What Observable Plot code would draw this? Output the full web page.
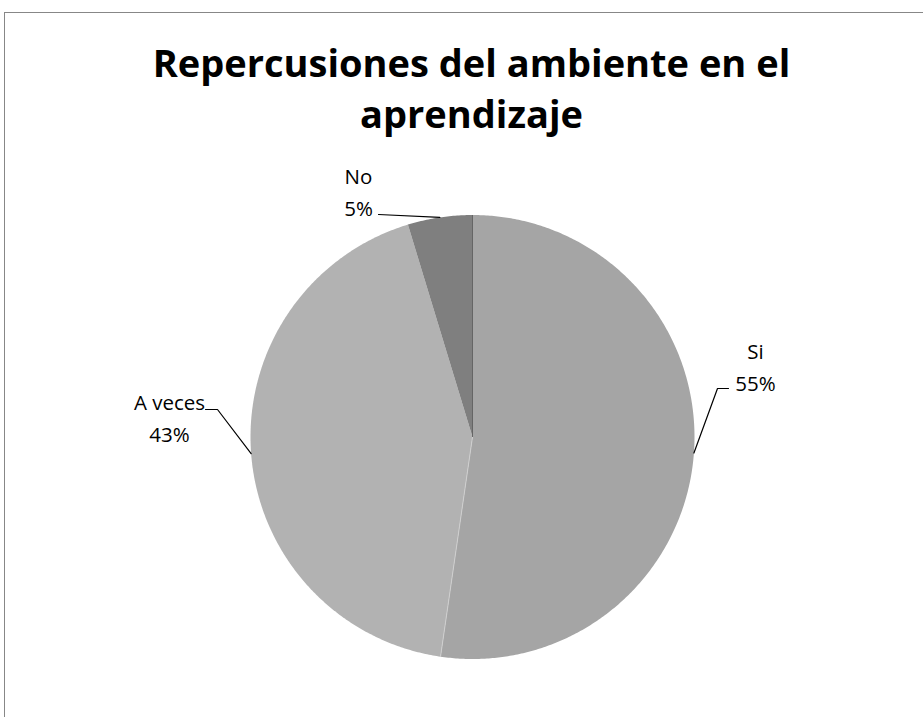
<!DOCTYPE html>
<html>
<head>
<meta charset="utf-8">
<script src="https://cdn.jsdelivr.net/npm/d3@7"></script>
<script src="https://cdn.jsdelivr.net/npm/@observablehq/plot@0.6"></script>
<style>
  html, body { margin: 0; padding: 0; background: #fff; overflow: hidden; }
  #wrap { position: relative; width: 923px; height: 717px; overflow: hidden; }
  #frame { position: absolute; left: 4px; top: 12px; width: 1000px; height: 1000px;
           border: 1.5px solid #878787; box-sizing: border-box; pointer-events: none; }
  #chart { position: absolute; left: 0; top: 0; }
</style>
</head>
<body>
<div id="wrap"><div id="frame"></div><div id="chart"></div></div>
<script>
// ---- data ----
const titleText = "Repercusiones del ambiente en el\naprendizaje";
const categories = ["Si", "A veces", "No"];
const values = [52.3, 43.0, 4.7];            // slice sizes
const percentLabels = ["55%", "43%", "5%"];    // label text as printed on the chart
const sliceColors = ["#a5a5a5", "#b2b2b2", "#7f7f7f"];

// ---- layout (pixels) ----
const W = 923, H = 717;
const pie = {cx: 472, cy: 436.5, r: 222};
const labelPos = [            // centre x and baseline of last line for each label
  {x: 755, y: 390, elbow: [717, 388], end: [728, 388]},
  {x: 169, y: 441, elbow: [217, 409], end: [205, 409]},
  {x: 358, y: 215, elbow: null, end: [378, 214]}
];
const seamColors = ["#5e5e5e", "#d0d0d0", null]; // edge drawn at the start angle of each slice
const labelFont = 20.5, labelLine = 32;
const titleFont = 38, titleLine = 51, titleBaseline = 127;

// ---- geometry from data ----
const arcs = d3.pie().sort(null).value(d => d)(values);
const pt = a => [pie.cx + pie.r * Math.sin(a), pie.cy - pie.r * Math.cos(a)];
const sliceRows = [];
arcs.forEach((a, i) => {
  sliceRows.push({cat: categories[i], x: pie.cx, y: pie.cy});
  const n = Math.max(4, Math.ceil((a.endAngle - a.startAngle) / (Math.PI / 360)));
  for (let j = 0; j <= n; ++j) {
    const t = a.startAngle + (a.endAngle - a.startAngle) * j / n;
    const [x, y] = pt(t);
    sliceRows.push({cat: categories[i], x, y});
  }
});
const seamRows = arcs.map((a, i) => {
  const [x2, y2] = pt(a.startAngle);
  return {x1: pie.cx, y1: pie.cy, x2, y2, color: seamColors[i]};
}).filter(d => d.color);
const leaderRows = [];
arcs.forEach((a, i) => {
  const mid = (a.startAngle + a.endAngle) / 2;
  const [x0, y0] = pt(mid);
  const L = labelPos[i];
  leaderRows.push({cat: categories[i], x: x0, y: y0});
  if (L.elbow) leaderRows.push({cat: categories[i], x: L.elbow[0], y: L.elbow[1]});
  leaderRows.push({cat: categories[i], x: L.end[0], y: L.end[1]});
});
const labelRows = categories.map((c, i) => ({
  text: c + "\n" + percentLabels[i], x: labelPos[i].x, y: labelPos[i].y
}));

const chart = Plot.plot({
  width: W, height: H,
  margin: 0,
  x: {domain: [0, W], range: [0, W], axis: null},
  y: {domain: [0, H], range: [0, H], axis: null},
  color: {type: "ordinal", domain: categories, range: sliceColors},
  style: {background: "transparent", fontFamily: "'Open Sans', sans-serif"},
  marks: [
    Plot.line(sliceRows, {x: "x", y: "y", z: "cat", fill: "cat", stroke: null, curve: "linear-closed"}),
    Plot.link(seamRows, {x1: "x1", y1: "y1", x2: "x2", y2: "y2", stroke: d => d.color, strokeWidth: 0.9}),
    Plot.line(leaderRows, {x: "x", y: "y", z: "cat", stroke: "#000", strokeWidth: 1.2}),
    Plot.text(labelRows, {x: "x", y: "y", text: "text", textAnchor: "middle", lineAnchor: "bottom",
      fontSize: labelFont, lineHeight: labelLine / labelFont, fill: "#000"}),
    Plot.text([titleText], {x: () => 471, y: () => titleBaseline, text: d => d, textAnchor: "middle",
      lineAnchor: "bottom", fontSize: titleFont, fontWeight: "bold", lineHeight: titleLine / titleFont, fill: "#000"})
  ]
});
document.getElementById("chart").appendChild(chart);
</script>
</body>
</html>
